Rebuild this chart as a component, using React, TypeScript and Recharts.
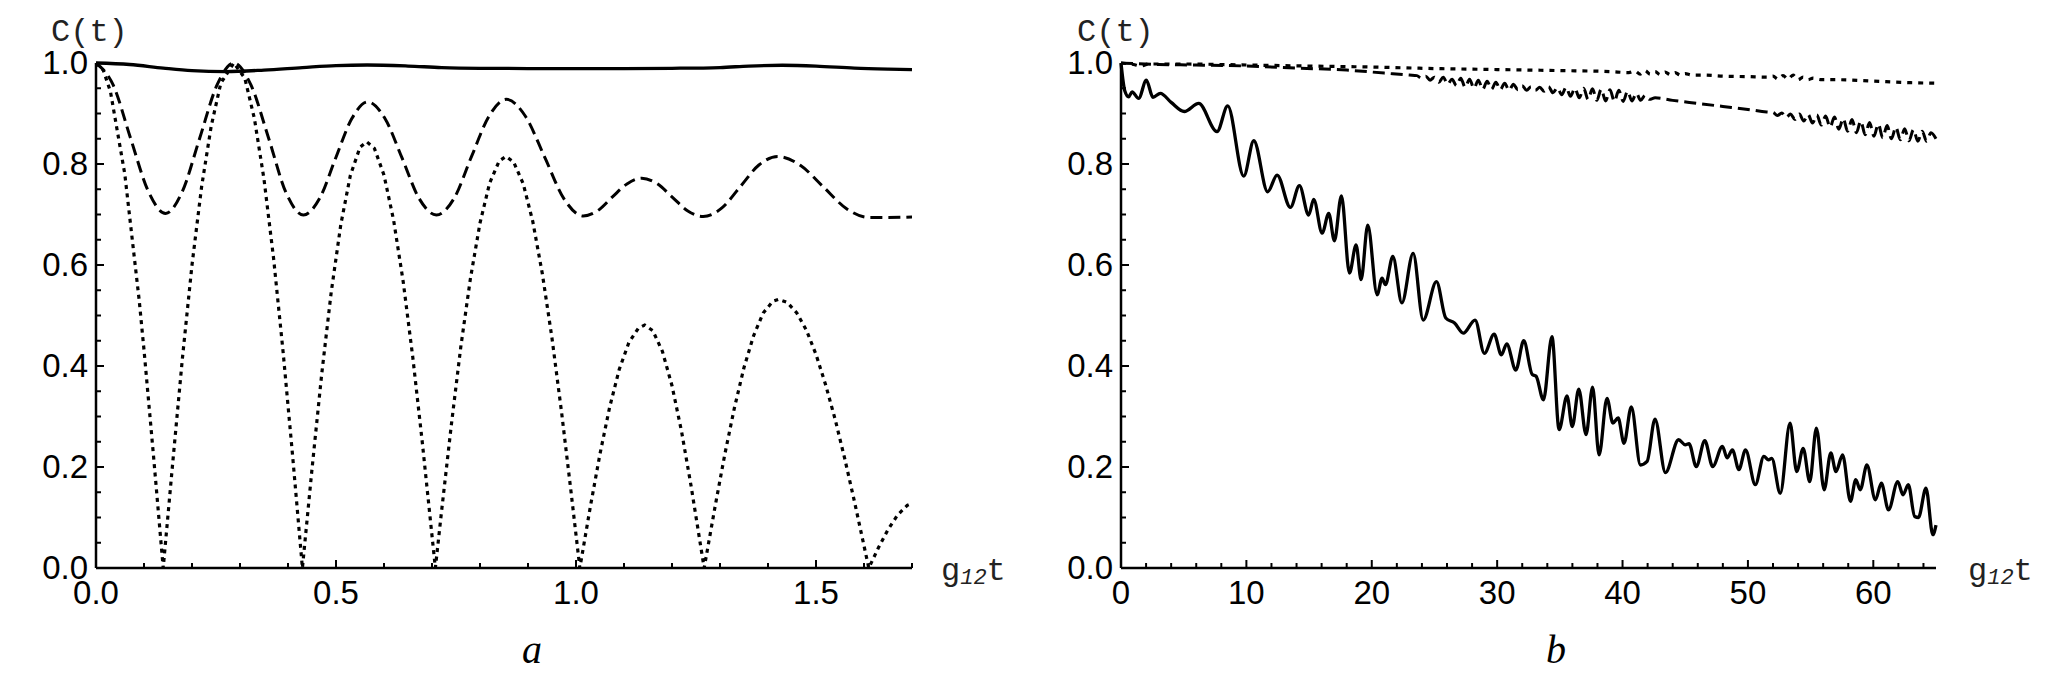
import React from "react";
import { LineChart, Line, XAxis, YAxis } from "recharts";

// panel a: C(t) against g12 t, 0..1.7
const aSolid: [number, number][] = [
  [0, 1.0], [0.07, 0.997], [0.14, 0.99], [0.2, 0.985], [0.27, 0.983], [0.35, 0.986],
  [0.43, 0.991], [0.5, 0.995], [0.565, 0.996], [0.65, 0.994], [0.72, 0.991], [0.8, 0.9895],
  [0.9, 0.989], [1.0, 0.989], [1.1, 0.989], [1.2, 0.9895], [1.3, 0.991], [1.36, 0.994],
  [1.43, 0.9955], [1.5, 0.994], [1.58, 0.99], [1.65, 0.988], [1.7, 0.987],
];

const aDashed: [number, number][] = [
  [0, 1.0], [0.036, 0.956], [0.072, 0.851], [0.109, 0.746], [0.145, 0.702], [0.18, 0.746],
  [0.216, 0.851], [0.252, 0.956], [0.287, 1.0], [0.323, 0.956], [0.36, 0.85], [0.396, 0.743],
  [0.432, 0.699], [0.466, 0.732], [0.499, 0.811], [0.533, 0.89], [0.566, 0.923], [0.602, 0.89],
  [0.638, 0.811], [0.673, 0.732], [0.709, 0.699], [0.746, 0.732], [0.782, 0.814], [0.819, 0.895],
  [0.855, 0.928], [0.895, 0.894], [0.935, 0.813], [0.975, 0.731], [1.015, 0.697], [1.046, 0.708],
  [1.076, 0.735], [1.107, 0.761], [1.137, 0.772], [1.169, 0.761], [1.201, 0.734], [1.233, 0.707],
  [1.265, 0.696], [1.304, 0.713], [1.343, 0.756], [1.381, 0.798], [1.42, 0.815], [1.468, 0.797],
  [1.515, 0.755], [1.563, 0.712], [1.61, 0.694], [1.65, 0.694], [1.7, 0.695],
];

const aDotted: [number, number][] = [
  [0, 1.0], [0.015, 0.986], [0.03, 0.944], [0.06, 0.78], [0.09, 0.53], [0.1, 0.432], [0.12, 0.22], [0.14, 0],
  [0.16, 0.21], [0.18, 0.415], [0.2, 0.6], [0.22, 0.755], [0.24, 0.875], [0.26, 0.96], [0.287, 1.0],
  [0.31, 0.97], [0.33, 0.89], [0.35, 0.77], [0.37, 0.613], [0.39, 0.426], [0.41, 0.218], [0.43, 0],
  [0.45, 0.196], [0.47, 0.382], [0.49, 0.546], [0.51, 0.68], [0.53, 0.778], [0.55, 0.833], [0.564, 0.844],
  [0.58, 0.831], [0.6, 0.778], [0.62, 0.689], [0.64, 0.567], [0.66, 0.417], [0.68, 0.247], [0.707, 0],
  [0.72, 0.113], [0.74, 0.281], [0.76, 0.438], [0.78, 0.573], [0.8, 0.683], [0.82, 0.762], [0.84, 0.806],
  [0.854, 0.815], [0.87, 0.804], [0.89, 0.761], [0.91, 0.686], [0.93, 0.582], [0.95, 0.455], [0.97, 0.308],
  [0.99, 0.148], [1.008, 0],
  [1.03, 0.122], [1.05, 0.226], [1.07, 0.318], [1.09, 0.393], [1.11, 0.446], [1.13, 0.475], [1.143, 0.481],
  [1.16, 0.47], [1.18, 0.429], [1.2, 0.361], [1.22, 0.27], [1.24, 0.161], [1.267, 0],
  [1.29, 0.123], [1.31, 0.225], [1.33, 0.317], [1.35, 0.397], [1.37, 0.46], [1.39, 0.505], [1.41, 0.528],
  [1.422, 0.532], [1.44, 0.526], [1.46, 0.505], [1.48, 0.471], [1.5, 0.423], [1.52, 0.363], [1.54, 0.294],
  [1.56, 0.216], [1.58, 0.132], [1.61, 0],
  [1.63, 0.04], [1.65, 0.076], [1.67, 0.105], [1.69, 0.124], [1.7, 0.128],
];

// panel b: 0..65
const bSolid: [number, number][] = [
  [0, 1.0], [0.3, 0.945], [0.61, 0.933], [0.88, 0.943], [1.41, 0.93], [2.02, 0.966], [2.55, 0.932],
  [3.14, 0.94], [4.0, 0.922], [5.05, 0.904], [6.2, 0.92], [7.66, 0.864], [8.51, 0.915], [9.79, 0.776],
  [10.59, 0.846], [11.7, 0.745], [12.45, 0.778], [13.51, 0.714], [14.23, 0.757], [14.97, 0.699],
  [15.37, 0.73], [16.04, 0.663], [16.57, 0.702], [17.02, 0.648], [17.58, 0.737], [18.22, 0.584],
  [18.75, 0.64], [19.15, 0.571], [19.68, 0.679], [20.43, 0.541], [20.82, 0.574], [21.09, 0.561],
  [21.68, 0.617], [22.4, 0.525], [23.3, 0.623], [24.1, 0.491], [25.16, 0.567], [25.9, 0.495],
  [26.6, 0.485], [27.3, 0.465], [28.24, 0.491], [28.98, 0.425], [29.76, 0.463], [30.34, 0.422],
  [30.76, 0.444], [31.49, 0.392], [32.12, 0.45], [32.8, 0.383], [33.1, 0.38], [33.69, 0.333],
  [34.37, 0.458], [34.94, 0.274], [35.57, 0.341], [35.99, 0.28], [36.51, 0.354], [37.09, 0.264],
  [37.61, 0.358], [38.13, 0.224], [38.76, 0.336], [39.23, 0.287], [39.65, 0.297], [40.12, 0.247],
  [40.7, 0.319], [41.43, 0.204], [41.96, 0.211], [42.59, 0.295], [43.42, 0.189], [44.47, 0.254],
  [45.0, 0.244], [45.3, 0.246], [45.88, 0.201], [46.56, 0.252], [47.19, 0.201], [47.97, 0.241],
  [48.34, 0.218], [48.76, 0.234], [49.28, 0.195], [49.81, 0.234], [50.59, 0.165], [51.27, 0.221],
  [51.64, 0.214], [51.9, 0.217], [52.58, 0.148], [53.36, 0.287], [53.89, 0.191], [54.41, 0.237],
  [54.93, 0.171], [55.46, 0.277], [56.08, 0.155], [56.61, 0.228], [57.02, 0.191], [57.55, 0.224],
  [58.18, 0.132], [58.6, 0.175], [58.96, 0.155], [59.49, 0.204], [60.17, 0.135], [60.64, 0.168],
  [61.21, 0.115], [61.95, 0.171], [62.37, 0.145], [62.79, 0.165], [63.3, 0.102], [63.6, 0.1],
  [64.2, 0.158], [64.75, 0.066], [65, 0.085],
];

const bDashed: [number, number][] = [
  [0, 1.0], [3, 0.997], [6, 0.996], [10, 0.994], [14, 0.99], [18, 0.986], [21, 0.98], [23, 0.976],
  [23.6, 0.975], [23.95, 0.97], [24.3, 0.974], [24.65, 0.966], [25.0, 0.972], [25.35, 0.962],
  [25.7, 0.972], [26.05, 0.958], [26.4, 0.968], [26.75, 0.955], [27.1, 0.97], [27.45, 0.952],
  [27.8, 0.968], [28.15, 0.95], [28.5, 0.966], [28.85, 0.948], [29.2, 0.964], [29.55, 0.948],
  [29.9, 0.962], [30.25, 0.947], [30.6, 0.96], [30.95, 0.946], [31.3, 0.958], [31.65, 0.947],
  [32.0, 0.955], [32.35, 0.946], [32.7, 0.953], [33.05, 0.946], [33.4, 0.952], [33.75, 0.944],
  [34.1, 0.953], [34.45, 0.941], [34.8, 0.951], [35.15, 0.937], [35.5, 0.952], [35.85, 0.934],
  [36.2, 0.95], [36.55, 0.931], [36.9, 0.95], [37.25, 0.928], [37.6, 0.949], [37.95, 0.926],
  [38.3, 0.948], [38.65, 0.925], [39.0, 0.947], [39.35, 0.924], [39.7, 0.946], [40.05, 0.924],
  [40.4, 0.944], [40.75, 0.925], [41.1, 0.94], [41.45, 0.926], [41.8, 0.936], [42.15, 0.928],
  [42.6, 0.931], [44, 0.926], [46, 0.92], [48, 0.914], [50, 0.908], [51.5, 0.903],
  [52.0, 0.902], [52.35, 0.896], [52.7, 0.901], [53.05, 0.892], [53.4, 0.899], [53.75, 0.888],
  [54.1, 0.899], [54.45, 0.885], [54.8, 0.898], [55.15, 0.881], [55.5, 0.897], [55.85, 0.877],
  [56.2, 0.895], [56.55, 0.873], [56.9, 0.893], [57.25, 0.869], [57.6, 0.89], [57.95, 0.865],
  [58.3, 0.888], [58.65, 0.862], [59.0, 0.885], [59.35, 0.858], [59.7, 0.882], [60.05, 0.855],
  [60.4, 0.879], [60.75, 0.852], [61.1, 0.876], [61.45, 0.85], [61.8, 0.873], [62.15, 0.848],
  [62.5, 0.87], [62.85, 0.846], [63.2, 0.868], [63.55, 0.845], [63.9, 0.865], [64.25, 0.845],
  [64.6, 0.862], [65, 0.85],
];

const bDotted: [number, number][] = [
  [0, 1.0], [1, 0.997], [1.6, 0.994], [2.2, 0.998], [5, 0.998], [10, 0.996], [15, 0.994], [20, 0.992],
  [25, 0.989], [30, 0.987], [35, 0.985], [39, 0.983], [40.5, 0.981], [41, 0.984], [41.4, 0.978],
  [41.8, 0.985], [42.2, 0.978], [42.6, 0.983], [43, 0.977], [43.4, 0.982], [43.8, 0.977], [44.2, 0.981],
  [44.6, 0.976], [45, 0.979], [45.5, 0.976], [46.5, 0.976], [48, 0.974], [50, 0.973], [51.5, 0.972],
  [52, 0.974], [52.4, 0.968], [52.8, 0.975], [53.2, 0.968], [53.6, 0.976], [54, 0.967], [54.4, 0.972],
  [54.8, 0.967], [55.2, 0.97], [55.8, 0.967], [57, 0.967], [60, 0.964], [63, 0.961], [65, 0.96],
];

const aTicksX = [0, 0.1, 0.2, 0.3, 0.4, 0.5, 0.6, 0.7, 0.8, 0.9, 1.0, 1.1, 1.2, 1.3, 1.4, 1.5, 1.6, 1.7];
const aLabelsX = [0, 0.5, 1.0, 1.5];
const bTicksX = [
  0, 2, 4, 6, 8, 10, 12, 14, 16, 18, 20, 22, 24, 26, 28, 30, 32,
  34, 36, 38, 40, 42, 44, 46, 48, 50, 52, 54, 56, 58, 60, 62, 64,
];
const bLabelsX = [0, 10, 20, 30, 40, 50, 60];
const ticksY = [
  0, 0.05, 0.1, 0.15, 0.2, 0.25, 0.3, 0.35, 0.4, 0.45, 0.5,
  0.55, 0.6, 0.65, 0.7, 0.75, 0.8, 0.85, 0.9, 0.95, 1.0,
];
const labelsY = [0, 0.2, 0.4, 0.6, 0.8, 1.0];

const FONT = "'Liberation Sans', Arial, sans-serif";
const MONO = "'Liberation Mono', 'DejaVu Sans Mono', monospace";
const SERIF = "'Liberation Serif', 'DejaVu Serif', serif";

const rows = (pts: [number, number][]) => pts.map(([t, c]) => ({ t, c }));
const isMajor = (list: number[], v: number) => list.some((l) => Math.abs(l - v) < 1e-6);

// ticks point into the plot, like the original
function xTick(labels: number[], digits: number) {
  return (props: any) => {
    const { x, y, payload } = props;
    const major = isMajor(labels, payload.value);
    return (
      <g>
        <line x1={x} x2={x} y1={y} y2={y - (major ? 8 : 5)} stroke="#000" strokeWidth={2} />
        {major && (
          <text x={x} y={y + 36} textAnchor="middle" fontFamily={FONT} fontSize={33} fill="#000">
            {payload.value.toFixed(digits)}
          </text>
        )}
      </g>
    );
  };
}

const yTick = (props: any) => {
  const { x, y, payload } = props;
  const major = isMajor(labelsY, payload.value);
  return (
    <g>
      <line x1={x} x2={x + (major ? 8 : 5)} y1={y} y2={y} stroke="#000" strokeWidth={2} />
      {major && (
        <text x={x - 8} y={y + 11} textAnchor="end" fontFamily={FONT} fontSize={33} fill="#000">
          {payload.value.toFixed(1)}
        </text>
      )}
    </g>
  );
};

function Panel(props: {
  width: number;
  margin: { top: number; right: number; bottom: number; left: number };
  domainX: [number, number];
  ticksX: number[];
  labelsX: number[];
  digits: number;
  solid: [number, number][];
  dashed: [number, number][];
  dotted: [number, number][];
  dottedDash: string;
  dottedType: "linear" | "monotone";
}) {
  const axisLine = { stroke: "#000", strokeWidth: 2.5 };
  return (
    <LineChart width={props.width} height={696} margin={props.margin}>
      <XAxis
        type="number"
        dataKey="t"
        domain={props.domainX}
        ticks={props.ticksX}
        interval={0}
        tick={xTick(props.labelsX, props.digits)}
        tickLine={false}
        tickSize={0}
        tickMargin={0}
        axisLine={axisLine}
        height={60}
      />
      <YAxis
        type="number"
        domain={[0, 1]}
        ticks={ticksY}
        interval={0}
        tick={yTick}
        tickLine={false}
        tickSize={0}
        tickMargin={0}
        axisLine={axisLine}
        width={80}
      />
      <Line
        data={rows(props.dotted)}
        dataKey="c"
        type={props.dottedType}
        stroke="#000"
        strokeWidth={3.2}
        strokeDasharray={props.dottedDash}
        dot={false}
        activeDot={false}
        isAnimationActive={false}
      />
      <Line
        data={rows(props.dashed)}
        dataKey="c"
        type="monotone"
        stroke="#000"
        strokeWidth={3}
        strokeDasharray="12 6"
        dot={false}
        activeDot={false}
        isAnimationActive={false}
      />
      <Line
        data={rows(props.solid)}
        dataKey="c"
        type="monotone"
        stroke="#000"
        strokeWidth={3.3}
        dot={false}
        activeDot={false}
        isAnimationActive={false}
      />
    </LineChart>
  );
}

function AxisTitles({ cx, gx, panelX, name }: { cx: number; gx: number; panelX: number; name: string }) {
  return (
    <>
      <text x={cx} y={41} fontFamily={MONO} fontSize={32} fill="#222">
        C(t)
      </text>
      <text x={gx} y={580} fontFamily={MONO} fontSize={32} fill="#222">
        g
        <tspan fontSize={22} dy={4} fontStyle="italic">
          12
        </tspan>
        <tspan dy={-4}>t</tspan>
      </text>
      <text x={panelX} y={663} textAnchor="middle" fontFamily={SERIF} fontStyle="italic" fontSize={40} fill="#000">
        {name}
      </text>
    </>
  );
}

export default function App() {
  return (
    <div style={{ position: "absolute", left: 0, top: 0, width: 2058, height: 696, background: "#fff" }}>
      <div style={{ position: "absolute", left: 0, top: 0 }}>
        <Panel
          width={1030}
          margin={{ top: 63, right: 118, bottom: 68, left: 16 }}
          domainX={[0, 1.7]}
          ticksX={aTicksX}
          labelsX={aLabelsX}
          digits={1}
          solid={aSolid}
          dashed={aDashed}
          dotted={aDotted}
          dottedDash="4 4.5"
          dottedType="linear"
        />
      </div>
      <div style={{ position: "absolute", left: 1030, top: 0 }}>
        <Panel
          width={1028}
          margin={{ top: 63, right: 122, bottom: 68, left: 11 }}
          domainX={[0, 65]}
          ticksX={bTicksX}
          labelsX={bLabelsX}
          digits={0}
          solid={bSolid}
          dashed={bDashed}
          dotted={bDotted}
          dottedDash="5 6"
          dottedType="monotone"
        />
      </div>
      <svg width={2058} height={696} style={{ position: "absolute", left: 0, top: 0, pointerEvents: "none" }}>
        <AxisTitles cx={51} gx={941} panelX={532} name="a" />
        <AxisTitles cx={1077} gx={1968} panelX={1556} name="b" />
      </svg>
    </div>
  );
}
